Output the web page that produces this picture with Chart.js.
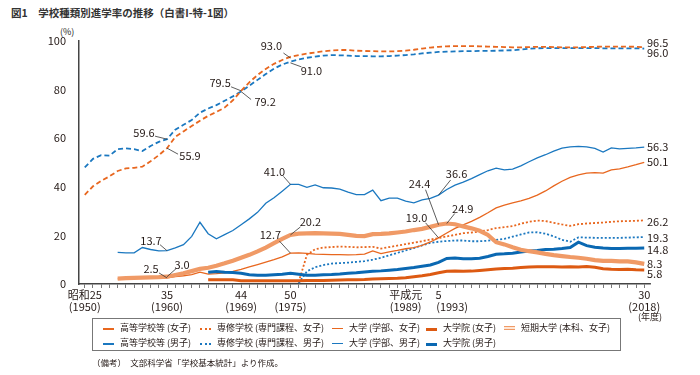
<!DOCTYPE html>
<html lang="ja">
<head>
<meta charset="utf-8">
<script src="https://cdn.jsdelivr.net/npm/chart.js@4.4.1/dist/chart.umd.min.js"></script>
<style>
  body { margin: 0; width: 700px; height: 375px; background: #fff; position: relative; overflow: hidden;
         font-family: 'Noto Sans CJK JP', 'Noto Sans', sans-serif; color: #231815; }
  #title { position: absolute; left: 11px; top: 5px; font-size: 10.5px; font-weight: bold; color: #333; }
  #unit { position: absolute; left: 60px; top: 25px; font-size: 9px; }
  #nendo { position: absolute; left: 638px; top: 310px; font-size: 9px; }
  #wrap { position: absolute; left: 0; top: 0; width: 700px; height: 320px; }
  #legend { position: absolute; left: 92px; top: 318px; width: 529px; height: 33px; border: 1px solid #777; box-sizing: border-box; }
  .item { position: absolute; font-size: 9px; line-height: 12px; white-space: nowrap; }
  .sw { position: absolute; width: 11px; height: 0; top: 6px; }
  .item span.t { position: absolute; left: 17px; top: 0; }
  #note { position: absolute; left: 92px; top: 356px; font-size: 8.5px; }
</style>
</head>
<body>
<div id="title">図1　学校種類別進学率の推移（白書I-特-1図）</div>
<div id="unit">(%)</div>
<div id="wrap"><canvas id="chart"></canvas></div>
<div id="nendo">(年度)</div>
<div id="legend"></div>
<div id="note">（備考）　文部科学省「学校基本統計」より作成。</div>
<script>
const FIRST = 1950, LAST = 2018;
const years = [];
for (let y = FIRST; y <= LAST; y++) years.push(y);

function fromYear(start, values) {
  const pad = [];
  for (let y = FIRST; y < start; y++) pad.push(null);
  return pad.concat(values);
}

// 高等学校等
const hsFemale = [
  36.7, 40.2, 42.5, 44.3, 46.5, 47.6, 47.8, 48.3, 50.5, 53.0,
  55.9, 60.5, 62.8, 65.0, 67.2, 69.2, 70.8, 72.6, 75.6, 79.5,
  83.0, 86.0, 88.5, 90.6, 92.2, 93.5, 94.2, 94.8, 95.3, 95.8,
  96.1, 96.3, 96.3, 96.0, 95.9, 95.8, 95.7, 95.7, 95.8, 96.0,
  96.4, 96.9, 97.3, 97.6, 97.8, 97.9, 97.9, 97.9, 97.8, 97.7,
  97.6, 97.5, 97.4, 97.4, 97.5, 97.6, 97.6, 97.5, 97.4, 97.4,
  97.4, 97.5, 97.6, 97.7, 97.7, 97.7, 97.7, 97.6, 97.4
];
const hsMale = [
  48.0, 51.5, 53.0, 52.8, 55.5, 55.8, 55.5, 54.7, 56.8, 58.5,
  59.6, 63.5, 65.5, 67.5, 70.5, 72.2, 73.6, 75.4, 77.2, 79.2,
  81.6, 84.0, 86.4, 88.6, 90.3, 91.5, 92.4, 93.1, 93.6, 94.0,
  94.2, 94.1, 94.0, 93.8, 93.8, 93.7, 93.7, 93.8, 94.0, 94.2,
  94.5, 94.9, 95.2, 95.5, 95.6, 95.7, 95.8, 95.8, 95.9, 95.9,
  96.0, 96.1, 96.2, 96.5, 96.8, 97.0, 97.1, 97.1, 97.1, 97.1,
  97.1, 97.1, 97.1, 97.0, 97.0, 97.0, 97.0, 97.0, 96.9
];
// 大学（学部） from 1954
const univMale = fromYear(1954, [
  13.0, 12.8, 12.8, 15.0, 14.2, 13.6,
  13.7, 14.9, 16.2, 19.6, 25.4, 20.7, 18.6, 20.3, 22.0, 24.4,
  26.8, 29.5, 33.2, 35.5, 38.2, 41.0, 41.0, 39.8, 40.8, 39.6,
  39.5, 39.0, 37.8, 36.8, 36.8, 38.6, 34.3, 35.3, 35.3, 34.1,
  33.4, 34.6, 35.2, 36.6, 38.9, 40.7, 41.9, 43.4, 45.0, 46.6,
  47.7, 47.0, 47.3, 48.6, 50.3, 51.9, 53.2, 54.7, 55.9, 56.4,
  56.6, 56.4, 55.8, 54.3, 56.0, 55.6, 55.8, 56.0, 56.3
]);
const univFemale = fromYear(1954, [
  2.1, 2.4, 2.3, 2.4, 2.4, 2.5,
  2.5, 3.0, 3.4, 3.9, 4.9, 4.1, 4.3, 4.6, 5.2, 6.0,
  7.0, 8.0, 9.0, 10.0, 11.2, 12.7, 12.8, 12.6, 12.3, 12.2,
  12.1, 12.1, 12.0, 12.1, 12.3, 13.6, 12.5, 13.2, 13.8, 14.5,
  15.0, 15.9, 17.3, 19.0, 21.0, 22.9, 24.3, 25.8, 27.4, 29.3,
  31.3, 32.5, 33.4, 34.2, 35.2, 36.6, 38.3, 40.4, 42.3, 43.9,
  44.9, 45.6, 45.8, 45.6, 47.0, 47.4, 48.2, 49.1, 50.1
]);
// 短期大学（本科、女子） from 1954
const juniorFemale = fromYear(1954, [
  2.2, 2.4, 2.5, 2.6, 2.7, 2.8,
  3.0, 3.7, 4.4, 5.3, 6.2, 6.7, 7.5, 8.5, 9.6, 10.8,
  12.0, 13.4, 15.0, 16.8, 18.6, 20.2, 20.7, 20.8, 20.9, 20.8,
  20.7, 20.6, 20.2, 19.8, 19.7, 20.5, 20.6, 20.8, 21.2, 21.6,
  22.2, 22.7, 23.5, 24.4, 24.9, 24.6, 23.7, 22.9, 21.9, 20.2,
  17.2, 16.3, 15.1, 14.1, 13.5, 13.0, 12.4, 11.9, 11.5, 11.1,
  10.8, 10.4, 9.8, 9.5, 9.5, 9.3, 9.3, 8.9, 8.3
]);
// 大学院 from 1965
const gradFemale = fromYear(1965, [
  1.8, 1.8, 1.8, 1.7, 1.3,
  1.3, 1.3, 1.3, 1.3, 1.3, 1.3, 1.3, 1.4, 1.4, 1.4,
  1.5, 1.6, 1.7, 1.8, 1.9, 2.1, 2.2, 2.3, 2.4, 2.6,
  3.0, 3.4, 3.9, 4.6, 5.2, 5.3, 5.2, 5.3, 5.6, 5.9,
  6.2, 6.4, 6.5, 6.8, 7.0, 7.1, 7.1, 7.1, 7.0, 7.1,
  7.0, 7.2, 6.9, 6.3, 6.1, 6.0, 6.1, 5.9, 5.8
]);
const gradMale = fromYear(1965, [
  4.8, 5.1, 4.8, 4.7, 4.4,
  3.8, 3.6, 3.6, 3.8, 4.0, 4.4, 4.0, 3.6, 3.6, 3.8,
  3.9, 4.1, 4.4, 4.6, 4.9, 5.2, 5.4, 5.7, 6.0, 6.4,
  6.8, 7.3, 7.8, 8.9, 10.5, 10.7, 10.4, 10.4, 10.6, 11.3,
  12.2, 12.4, 12.7, 13.2, 13.6, 13.8, 14.2, 14.3, 14.6, 15.0,
  17.2, 15.8, 15.1, 14.8, 14.6, 14.6, 14.7, 14.7, 14.8
]);
// 専修学校（専門課程） from 1976
const vocFemale = fromYear(1976, [
  0.8, 12.0, 14.3, 15.0,
  15.2, 15.4, 15.3, 15.1, 15.2, 15.3, 14.6, 15.2, 15.8, 16.4,
  17.0, 17.6, 18.3, 18.9, 19.6, 20.2, 20.9, 21.2, 21.6, 22.2,
  23.0, 23.4, 23.8, 24.8, 25.6, 26.1, 25.9, 25.2, 24.5, 23.9,
  24.6, 24.9, 25.1, 25.3, 25.6, 25.8, 25.9, 26.0, 26.2
]);
const vocMale = fromYear(1976, [
  0.3, 5.2, 6.9, 7.8,
  8.4, 8.6, 8.8, 9.1, 9.4, 10.0, 10.8, 11.8, 12.8, 13.8,
  14.8, 15.9, 16.9, 17.4, 17.7, 17.9, 17.9, 17.6, 17.6, 17.8,
  18.2, 18.6, 19.5, 20.4, 21.2, 21.3, 20.7, 19.6, 18.2, 17.4,
  19.2, 19.1, 19.0, 19.0, 19.0, 19.0, 19.1, 19.2, 19.3
]);

const tickLabels = {
  1950: ['昭和25', '(1950)'],
  1960: ['35', '(1960)'],
  1969: ['44', '(1969)'],
  1975: ['50', '(1975)'],
  1989: ['平成元', '(1989)'],
  1993: ['5', '           (1993)'],
  2018: ['30', '(2018)'],
};

const ORANGE = '#E8671F', BLUE = '#1B78C0';
const GRAD_ORANGE = '#DD5A12', GRAD_BLUE = '#0A68B2';
const BAND = '#F09A66', BAND_IN = '#FDE6D6';

// callouts: anchor at (year, value), text offset and leader end relative to anchor (px)
const callouts = [
  { year: 1975, value: 93.0, text: '93.0', tx: -19, ty: -12, lx: -7, ly: -5 },
  { year: 1975, value: 91.0, text: '91.0', tx: 21,  ty: 8,   lx: 11, ly: 4 },
  { year: 1969, value: 79.5, text: '79.5', tx: -21, ty: -8,  lx: -10, ly: -4 },
  { year: 1969, value: 79.2, text: '79.2', tx: 24,  ty: 10,  lx: 10, ly: 8 },
  { year: 1960, value: 59.6, text: '59.6', tx: -23, ty: -6,  lx: -12, ly: -3 },
  { year: 1960, value: 55.9, text: '55.9', tx: 23,  ty: 8,   lx: 11, ly: 6 },
  { year: 1975, value: 41.0, text: '41.0', tx: -16, ty: -13, lx: -7, ly: -8 },
  { year: 1960, value: 13.7, text: '13.7', tx: -16, ty: -10, lx: -7, ly: -6 },
  { year: 1975, value: 20.2, text: '20.2', tx: 20,  ty: -13, lx: 10, ly: -8 },
  { year: 1975, value: 12.7, text: '12.7', tx: -20, ty: -18, lx: -11, ly: -12 },
  { year: 1960, value: 2.5,  text: '2.5',  tx: -16, ty: -9,  lx: -8, ly: -5 },
  { year: 1960, value: 3.0,  text: '3.0',  tx: 15,  ty: -12, lx: 9, ly: -8 },
  { year: 1993, value: 36.6, text: '36.6', tx: 18,  ty: -21, lx: 12, ly: -15 },
  { year: 1993, value: 24.4, text: '24.4', tx: -19, ty: -41, lx: -13, ly: -35 },
  { year: 1994, value: 24.9, text: '24.9', tx: 16,  ty: -15, lx: 8, ly: -10 },
  { year: 1993, value: 19.0, text: '19.0', tx: -22, ty: -20, lx: -13, ly: -15 },
];

// labels at the right end of each series
const endLabels = [
  { value: 96.5, text: '96.5', dy: -7 },
  { value: 96.0, text: '96.0', dy: 2 },
  { value: 56.3, text: '56.3', dy: 0 },
  { value: 50.1, text: '50.1', dy: 0 },
  { value: 26.2, text: '26.2', dy: 1 },
  { value: 19.3, text: '19.3', dy: 1 },
  { value: 14.8, text: '14.8', dy: 2 },
  { value: 8.3,  text: '8.3',  dy: 0 },
  { value: 5.8,  text: '5.8',  dy: 4 },
];

function pts(values) {
  return years.map((y, i) => ({ x: y, y: values[i] }));
}

function line(label, values, color, width, dash) {
  return {
    label, data: pts(values), borderColor: color, borderWidth: width,
    borderDash: dash || [], pointRadius: 0, fill: false, tension: 0, spanGaps: false,
  };
}

const datasets = [
  line('短期大学（本科、女子）', juniorFemale, BAND, 4.2),
  line('短期大学（本科、女子）内', juniorFemale, BAND_IN, 1.6),
  line('大学院（女子）', gradFemale, GRAD_ORANGE, 3),
  line('大学院（男子）', gradMale, GRAD_BLUE, 3),
  line('大学（学部、女子）', univFemale, ORANGE, 1.3),
  line('大学（学部、男子）', univMale, BLUE, 1.3),
  line('専修学校（専門課程、女子）', vocFemale, ORANGE, 1.8, [2, 2]),
  line('専修学校（専門課程、男子）', vocMale, BLUE, 1.8, [2, 2]),
  line('高等学校等（女子）', hsFemale, ORANGE, 1.8, [5, 3]),
  line('高等学校等（男子）', hsMale, BLUE, 1.8, [5, 3]),
];

const labelPlugin = {
  id: 'labels',
  afterDatasetsDraw(chart) {
    const ctx = chart.ctx, xs = chart.scales.x, ys = chart.scales.y;
    ctx.save();
    ctx.font = '11px "Noto Sans CJK JP", sans-serif';
    ctx.fillStyle = '#231815';
    ctx.strokeStyle = '#333';
    ctx.lineWidth = 0.8;
    ctx.textAlign = 'center';
    ctx.textBaseline = 'middle';
    callouts.forEach(c => {
      const px = xs.getPixelForValue(c.year), py = ys.getPixelForValue(c.value);
      ctx.beginPath();
      ctx.moveTo(px, py);
      ctx.lineTo(px + c.lx, py + c.ly);
      ctx.stroke();
      ctx.fillText(c.text, px + c.tx, py + c.ty);
    });
    ctx.textAlign = 'left';
    endLabels.forEach(l => {
      ctx.fillText(l.text, chart.chartArea.right - 3, ys.getPixelForValue(l.value) + l.dy);
    });
    ctx.restore();
  }
};

new Chart(document.getElementById('chart'), {
  type: 'line',
  data: { datasets },
  options: {
    responsive: true, maintainAspectRatio: false, animation: false,
    layout: { padding: { top: 41, right: 50, left: 0, bottom: 0 } },
    plugins: { legend: { display: false }, tooltip: { enabled: false } },
    scales: {
      x: {
        type: 'linear', min: 1949.3, max: 2018.7,
        afterFit: s => { s.height = 36; },
        ticks: {
          stepSize: 1, autoSkip: false, maxRotation: 0, includeBounds: false, padding: 1,
          color: '#231815', font: { size: 11, family: '"Noto Sans CJK JP", sans-serif', lineHeight: 1.05 },
          callback: v => tickLabels[v] || '',
        },
        grid: { drawOnChartArea: false, drawTicks: true, tickLength: 4, color: '#555', lineWidth: 0.8 },
        border: { color: '#444', width: 1.5 },
      },
      y: {
        min: 0, max: 100,
        afterFit: s => { s.width = 79; },
        ticks: { stepSize: 20, padding: 5, color: '#231815', font: { size: 11, family: '"Noto Sans CJK JP", sans-serif' } },
        grid: { display: false },
        border: { color: '#444', width: 1.5 },
      },
    },
  },
  plugins: [labelPlugin],
});

// legend
const legendItems = [
  { text: '高等学校等 (女子)', left: 10, row: 0, css: `border-top:2px dashed ${ORANGE}` },
  { text: '専修学校 (専門課程、女子)', left: 107, row: 0, css: `border-top:2px dotted ${ORANGE}` },
  { text: '大学 (学部、女子)', left: 239, row: 0, css: `border-top:1.5px solid ${ORANGE}` },
  { text: '大学院 (女子)', left: 333, row: 0, css: `border-top:3px solid ${GRAD_ORANGE}` },
  { text: '短期大学 (本科、女子)', left: 411, row: 0, css: `height:2px;background:${BAND_IN};border-top:1.5px solid ${BAND};border-bottom:1.5px solid ${BAND};margin-top:-2px` },
  { text: '高等学校等 (男子)', left: 10, row: 1, css: `border-top:2px dashed ${BLUE}` },
  { text: '専修学校 (専門課程、男子)', left: 107, row: 1, css: `border-top:2px dotted ${BLUE}` },
  { text: '大学 (学部、男子)', left: 239, row: 1, css: `border-top:1.5px solid ${BLUE}` },
  { text: '大学院 (男子)', left: 333, row: 1, css: `border-top:3px solid ${GRAD_BLUE}` },
];
const legend = document.getElementById('legend');
legendItems.forEach(it => {
  const d = document.createElement('div');
  d.className = 'item';
  d.style.left = it.left + 'px';
  d.style.top = (3 + it.row * 15) + 'px';
  d.innerHTML = `<div class="sw" style="${it.css}"></div><span class="t">${it.text}</span>`;
  legend.appendChild(d);
});
</script>
</body>
</html>
